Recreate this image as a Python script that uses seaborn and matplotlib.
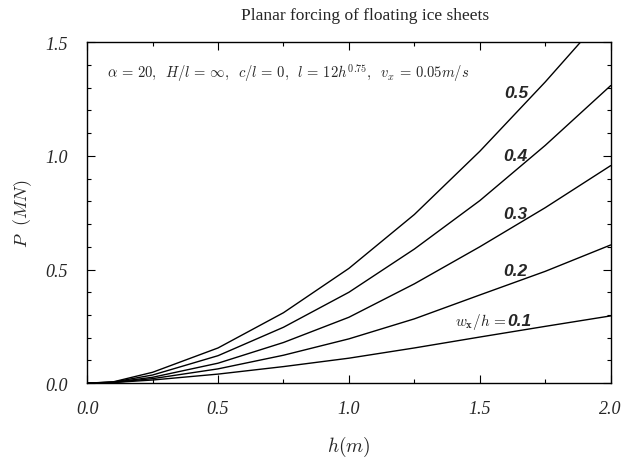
import numpy as np
import pandas as pd
import matplotlib
matplotlib.use("Agg")
import matplotlib.pyplot as plt
from matplotlib.ticker import MultipleLocator
import seaborn as sns

# ---- data ----
h = [0.0, 0.1, 0.25, 0.5, 0.75, 1.0, 1.25, 1.5, 1.75, 2.0]
ratios = ["0.1", "0.2", "0.3", "0.4", "0.5"]
P_01 = [0.0, 0.003, 0.014, 0.040, 0.073, 0.110, 0.155, 0.203, 0.250, 0.296]
P_02 = [0.0, 0.003, 0.020, 0.063, 0.123, 0.195, 0.283, 0.388, 0.492, 0.608]
P_03 = [0.0, 0.004, 0.026, 0.088, 0.179, 0.290, 0.437, 0.600, 0.772, 0.957]
P_04 = [0.0, 0.005, 0.036, 0.121, 0.246, 0.400, 0.590, 0.803, 1.046, 1.309]
P_05 = [0.0, 0.006, 0.048, 0.155, 0.310, 0.505, 0.742, 1.020, 1.325, 1.650]
label_x = [1.652, 1.635, 1.635, 1.635, 1.640]
label_y = [0.275, 0.495, 0.745, 1.001, 1.280]

series = [P_01, P_02, P_03, P_04, P_05]
df = pd.DataFrame({
    "h": np.tile(h, len(ratios)),
    "P": np.concatenate(series),
    "ratio": np.repeat(ratios, len(h)),
})

sns.set_style("ticks")
plt.rcParams["mathtext.fontset"] = "cm"
plt.rcParams["font.family"] = ["Liberation Serif", "DejaVu Serif"]

fig = plt.figure(figsize=(6.27, 4.64), dpi=100)
ax = fig.add_axes([0.139, 0.172, 0.835, 0.735])

sns.lineplot(data=df, x="h", y="P", hue="ratio",
             palette=["black"] * len(ratios), legend=False,
             linewidth=1.0, ax=ax, sort=False)

ax.set_xlim(0, 2.0)
ax.set_ylim(0, 1.5)
ax.xaxis.set_major_locator(MultipleLocator(0.5))
ax.xaxis.set_minor_locator(MultipleLocator(0.25))
ax.yaxis.set_major_locator(MultipleLocator(0.5))
ax.yaxis.set_minor_locator(MultipleLocator(0.1))
ax.set_xticklabels([f"{v:.1f}" for v in ax.get_xticks()])
ax.set_yticklabels([f"{v:.1f}" for v in ax.get_yticks()])
ax.tick_params(which="both", direction="in", top=True, right=True,
               color="black", width=0.8)
ax.tick_params(which="major", length=6)
ax.tick_params(which="minor", length=3)
ax.tick_params(axis="x", which="major", pad=12, labelsize=13)
ax.tick_params(axis="y", which="major", pad=14, labelsize=13)
for lab in ax.get_xticklabels() + ax.get_yticklabels():
    lab.set_fontstyle("italic")
for sp in ax.spines.values():
    sp.set_linewidth(1.0)
    sp.set_color("black")

ax.set_xlabel(r"$h(m)$", fontsize=14, labelpad=12)
ax.set_ylabel(r"$P\ \ (MN)$", fontsize=13, labelpad=8)

fig.text(0.583, 0.965, "Planar forcing of floating ice sheets",
         ha="center", va="center", fontsize=12.5, family="Liberation Serif")

ax.text(0.075, 1.37,
        r"$\alpha\,=\,20,\;\; H/l\,=\,\infty,\;\; c/l\,=\,0,\;\; l\,=\,12h^{0.75},\;\; v_{x}\,=\,0.05m/s$",
        fontsize=10.5, ha="left", va="center")

for r, lx, ly in zip(ratios, label_x, label_y):
    ax.text(lx, ly, r, fontsize=12.5, fontstyle="italic", fontweight="bold",
            family="Liberation Sans", ha="center", va="center")
ax.text(1.605, 0.272, r"$w_{\mathbf{x}}/h\,=$", fontsize=11,
        ha="right", va="center")

fig.savefig("out.png", dpi=100)
